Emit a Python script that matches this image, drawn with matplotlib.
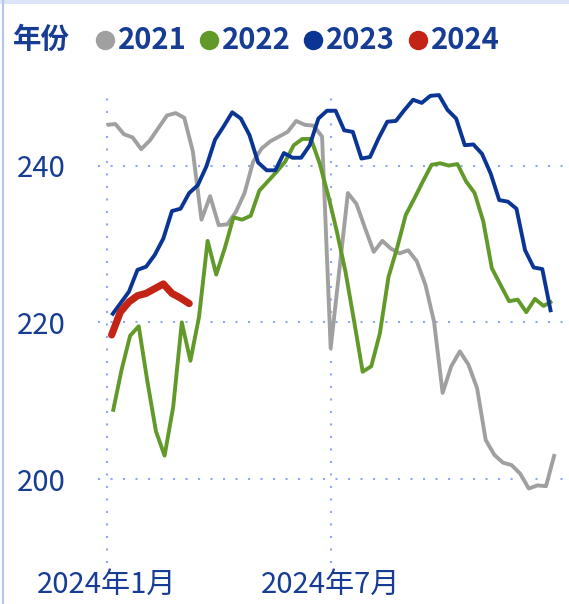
import matplotlib
matplotlib.use("Agg")
import matplotlib.pyplot as plt
from matplotlib.lines import Line2D
from matplotlib.patches import Rectangle

# ---------------- data ----------------
years = ["2021", "2022", "2023", "2024"]
colors = ["#a0a0a0", "#629a2a", "#0b3594", "#c32416"]

# day offset (from 2024-01-01) of the first weekly point of each series
start_day = [0, 5, 4, 4]

v2021 = [245.2, 245.3, 244.0, 243.6, 242.1, 243.2, 244.8, 246.4, 246.7, 246.1,
         241.8, 233.1, 236.1, 232.4, 232.5, 234.1, 236.5, 240.5, 242.2, 243.1,
         243.7, 244.3, 245.7, 245.2, 245.1, 243.7, 216.7, 226.6, 236.5, 235.1,
         232.0, 229.0, 230.4, 229.4, 228.8, 229.2, 227.8, 224.8, 220.1, 211.0,
         214.4, 216.3, 214.6, 211.6, 205.0, 203.1, 202.1, 201.8, 200.7, 198.8,
         199.2, 199.1, 203.2]
v2022 = [208.6, 213.9, 218.3, 219.5, 212.5, 206.1, 203.0, 209.2, 220.0, 215.1,
         220.7, 230.4, 226.1, 229.5, 233.4, 233.1, 233.6, 236.8, 238.0, 239.2,
         240.5, 242.6, 243.4, 243.4, 240.3, 236.2, 231.6, 226.5, 220.2, 213.7,
         214.4, 218.6, 225.8, 229.5, 233.7, 235.8, 238.0, 240.1, 240.3, 240.0,
         240.2, 238.0, 236.5, 232.9, 226.9, 224.8, 222.7, 222.9, 221.3, 223.0,
         222.1, 222.7]
v2023 = [220.9, 222.4, 223.9, 226.7, 227.1, 228.6, 230.7, 234.2, 234.5, 236.5,
         237.5, 239.9, 243.3, 245.0, 246.8, 246.0, 243.9, 240.4, 239.4, 239.4,
         241.6, 241.0, 241.0, 242.6, 246.0, 247.0, 247.0, 244.5, 244.3, 240.9,
         241.1, 243.5, 245.6, 245.7, 247.1, 248.4, 248.0, 248.9, 249.0, 247.1,
         246.0, 242.6, 242.7, 241.5, 239.0, 235.6, 235.4, 234.5, 229.2, 227.0,
         226.8, 221.3]
v2024 = [218.4, 221.3, 222.6, 223.4, 223.7, 224.3, 224.9, 223.7, 223.1, 222.4]
series = [v2021, v2022, v2023, v2024]

tick_days = [0, 182]
tick_labels = ["2024年1月", "2024年7月"]
y_ticks = [200, 220, 240]

# ---------------- style ----------------
W, H = 569, 604
DPI = 100
fig = plt.figure(figsize=(W / DPI, H / DPI), dpi=DPI)
fig.patch.set_facecolor("white")

TEXT = "#173c94"
GRID = "#8fa9f2"
FONT = ["Noto Sans CJK SC", "DejaVu Sans"]

def fx(px):
    return px / W

def fy(py):
    return 1 - py / H

ax = fig.add_axes([fx(98), fy(563), fx(569) - fx(98), fy(88) - fy(563)])
ax.set_xlim(-7.1, 375.7)
ax.set_ylim(189.3, 249.9)
for s in ax.spines.values():
    s.set_visible(False)

ax.set_yticks(y_ticks)
ax.set_xticks(tick_days)
ax.set_xticklabels(tick_labels)
ax.tick_params(axis="both", length=0, colors=TEXT, labelsize=21)
ax.tick_params(axis="y", pad=23)
ax.tick_params(axis="x", pad=5)
for lab in ax.get_xticklabels() + ax.get_yticklabels():
    lab.set_family(FONT)

ax.grid(True, color=GRID, linestyle=(0, (1, 5)), linewidth=1.5)
ax.set_axisbelow(True)

for i, (vals, c) in enumerate(zip(series, colors)):
    days = [start_day[i] + 7 * k for k in range(len(vals))]
    if i == 3:
        ax.plot(days, vals, color=c, lw=5.2, solid_capstyle="round",
                solid_joinstyle="round", zorder=5)
    else:
        ax.plot(days, vals, color=c, lw=2.8, solid_joinstyle="round",
                solid_capstyle="butt", zorder=2 + i)

# legend (manual)
fig.text(fx(13), fy(40), "年份", family=FONT, fontsize=20.5, fontweight="bold",
         color=TEXT, va="center", ha="left")
leg_x = [105, 209, 313, 418]
for x, y_lab, c in zip(leg_x, years, colors):
    fig.add_artist(Line2D([fx(x)], [fy(40)], marker="o", markersize=14,
                          color=c, markeredgewidth=0, transform=fig.transFigure))
    fig.text(fx(x + 13), fy(40), y_lab, family=FONT, fontsize=21,
             fontweight="bold", color=TEXT, va="center", ha="left")

# frame decorations
fig.add_artist(Rectangle((0, fy(4)), 1, fy(0) - fy(4), transform=fig.transFigure,
                         facecolor="#dde5fb", edgecolor="none"))
fig.add_artist(Line2D([fx(3), fx(3)], [0, 1], color="#b5c5ef", lw=1.5,
                      transform=fig.transFigure))

fig.savefig("out.png", dpi=DPI, facecolor="white")
